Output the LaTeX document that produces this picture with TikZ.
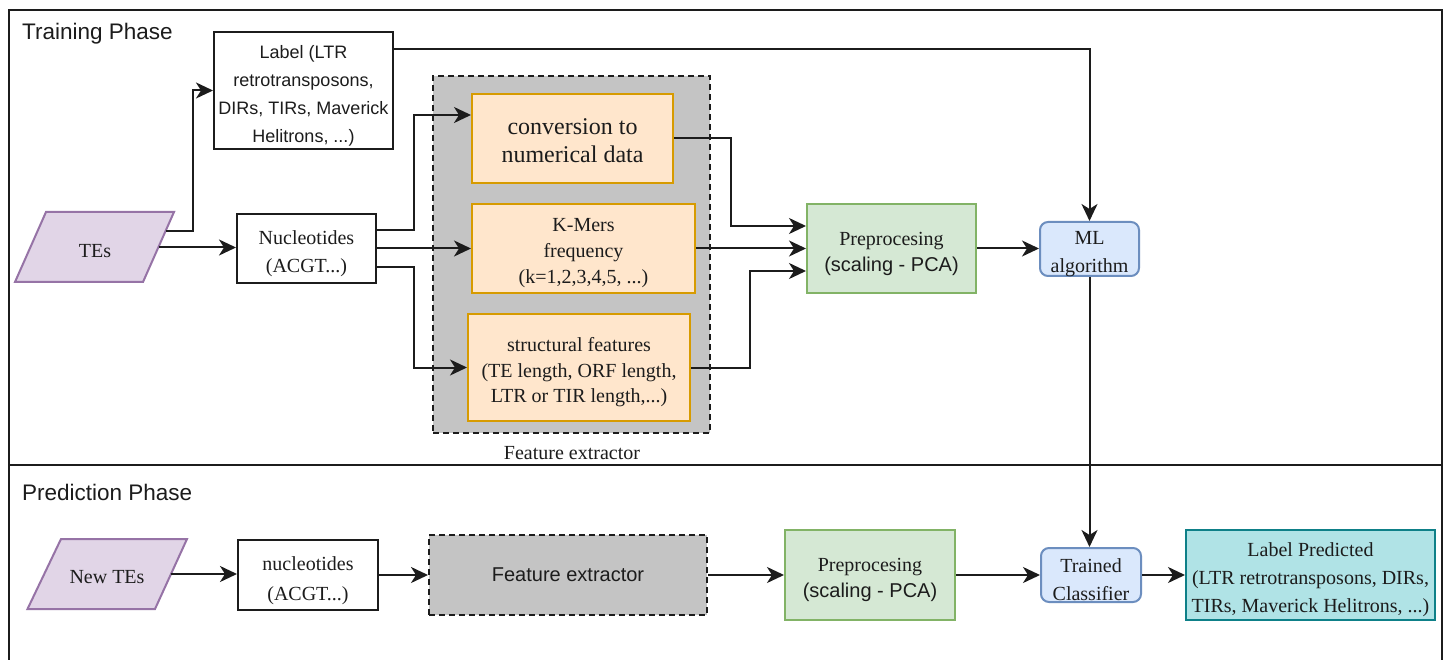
\documentclass[tikz,border=0pt]{standalone}
\usepackage{fontspec}
\setmainfont{Liberation Serif}
\setsansfont{Liberation Sans}
\usetikzlibrary{arrows.meta,calc}
\definecolor{purplefill}{HTML}{E1D5E7}
\definecolor{purpleline}{HTML}{9673A6}
\definecolor{orangefill}{HTML}{FFE6CC}
\definecolor{orangeline}{HTML}{D79B00}
\definecolor{greenfill}{HTML}{D5E8D4}
\definecolor{greenline}{HTML}{82B366}
\definecolor{bluefill}{HTML}{DAE8FC}
\definecolor{blueline}{HTML}{6C8EBF}
\definecolor{tealfill}{HTML}{B0E3E6}
\definecolor{tealline}{HTML}{0E8088}
\definecolor{fegray}{HTML}{C4C4C4}
\definecolor{ink}{HTML}{1C1C1C}
\begin{document}
\begin{tikzpicture}[x=1pt,y=-1pt,
  every node/.style={text=ink},
  serif20/.style={font=\fontsize{20}{27}\selectfont},
  box/.style={draw=ink, line width=2pt, inner sep=0pt, anchor=north west},
  txt/.style={align=center, inner sep=0pt, yshift=-5pt},
  orangebox/.style={box, draw=orangeline, fill=orangefill},
  greenbox/.style={box, draw=greenline, fill=greenfill},
  bluebox/.style={box, draw=blueline, fill=bluefill, rounded corners=8pt},
  tealbox/.style={box, draw=tealline, fill=tealfill},
  graybox/.style={box, fill=fegray, dash pattern=on 6pt off 4pt},
  para/.style={draw=purpleline, fill=purplefill, line width=2pt, line join=miter},
  arr/.style={draw=ink, line width=2pt, -{Stealth[length=17pt,width=16pt,inset=5pt]}},
  phase/.style={font=\sffamily\fontsize{22.5}{26}\selectfont, anchor=west, inner sep=0pt},
  sz/.style 2 args={minimum width=#1pt, minimum height=#2pt}
]
\useasboundingbox (0,0) rectangle (1446,660);
\clip (0,0) rectangle (1446,660);
\fill[white] (0,0) rectangle (1446,660);

% frames
\draw[ink, line width=2.5pt] (9,10) rectangle (1442,465);
\draw[ink, line width=2.5pt] (9,465) -- (9,680);
\draw[ink, line width=2.5pt] (1442,465) -- (1442,680);
\node[phase] (trainlbl) at (22,34) {Training Phase};
\node[phase] (predlbl) at (22,492) {Prediction Phase};

% ---------------- Training phase ----------------
\draw[para] (15,282) -- (143,282) -- (174,212) -- (46,212) -- cycle;
\node[serif20, inner sep=0pt] (tes) at (95,251) {TEs};
\coordinate (tesA) at (165.6,231);
\coordinate (tesB) at (158.5,247.5);

\node[box, sz={179}{117}] (label) at (213,31) {};
\node[txt, font=\sffamily\fontsize{18}{28}\selectfont] (labeltxt) at (label.center)
  {Label (LTR\\retrotransposons,\\DIRs, TIRs, Maverick\\Helitrons, ...)};

\node[box, sz={139}{69}] (nuc) at (236,213) {};
\node[txt, font=\fontsize{20}{28}\selectfont] (nuctxt) at (nuc.center) {Nucleotides\\(ACGT...)};

\node[graybox, sz={277}{357}] (fe) at (432,75) {};
\node[serif20, inner sep=0pt] (fecap) at (572,453) {Feature extractor};

\node[orangebox, sz={201}{89}] (conv) at (471,93) {};
\node[txt, yshift=3pt, font=\fontsize{24}{28}\selectfont] (convtxt) at (conv.center) {conversion to\\numerical data};
\node[orangebox, sz={223}{89}] (kmers) at (471,203) {};
\node[txt, font=\fontsize{20}{26}\selectfont] (kmerstxt) at (kmers.center) {K-Mers\\frequency\\(k=1,2,3,4,5, ...)};
\node[orangebox, sz={222}{107}] (struct) at (467,313) {};
\node[txt, font=\fontsize{20}{25.5}\selectfont] (structtxt) at (struct.center)
  {structural features\\(TE length, ORF length,\\LTR or TIR length,...)};

\node[greenbox, sz={169}{89}] (prep) at (806,203) {};
\node[txt, font=\fontsize{20}{26}\selectfont] (preptxt) at (prep.center)
  {Preprocesing\\{\sffamily (scaling - PCA)}};

\node[bluebox, sz={99}{54}] (ml) at (1039,221) {};
\node[txt, font=\fontsize{20}{28}\selectfont] (mltxt) at (ml.center) {ML\\algorithm};

% ---------------- Prediction phase ----------------
\draw[para] (27.5,609) -- (155,609) -- (187,539) -- (61,539) -- cycle;
\node[serif20, inner sep=0pt] (newtes) at (107,577) {New TEs};
\coordinate (newtesA) at (170.5,574);

\node[box, sz={140}{70}] (nuc2) at (237,539) {};
\node[txt, yshift=-1pt, font=\fontsize{20}{30}\selectfont] (nuc2txt) at (nuc2.center) {nucleotides\\(ACGT...)};
\node[graybox, sz={278}{80}, font=\sffamily\fontsize{20}{24}\selectfont] (fe2) at (428,534) {Feature extractor};
\node[greenbox, sz={170}{90}] (prep2) at (784,529) {};
\node[txt, font=\fontsize{20}{26}\selectfont] (prep2txt) at (prep2.center)
  {Preprocesing\\{\sffamily (scaling - PCA)}};
\node[bluebox, sz={100}{54}] (trained) at (1040,547) {};
\node[txt, font=\fontsize{20}{28}\selectfont] (trainedtxt) at (trained.center) {Trained\\Classifier};
\node[tealbox, sz={249}{90}] (labelp) at (1185,529) {};
\node[txt, font=\fontsize{20}{28}\selectfont] (labelptxt) at (labelp.center)
  {Label Predicted\\(LTR retrotransposons, DIRs,\\TIRs, Maverick Helitrons, ...)};

% connectors training
\draw[arr] (tesA) -- ++(27.4,0) |- (label.west);
\draw[arr] (tesB) -- (tesB -| nuc.west);
\draw[arr] ($(nuc.north east)+(0,17)$) -- ++(37,0) |- ($(conv.north west)+(0,22)$);
\draw[arr] (nuc.east) -- (nuc.east -| kmers.west);
\draw[arr] ($(nuc.south east)+(0,-17)$) -- ++(37,0) |- (struct.west);
\draw[arr] (conv.east) -- ++(57,0) |- ($(prep.north west)+(0,23)$);
\draw[arr] (kmers.east) -- (kmers.east -| prep.west);
\draw[arr] (struct.east) -- ++(59,0) |- ($(prep.south west)+(0,-23)$);
\draw[arr] (prep.east) -- (prep.east -| ml.west);
\draw[arr] ($(label.north east)+(0,18)$) -| (ml.north);
\draw[arr] (ml.south) -- (ml.south |- trained.north);

% connectors prediction
\draw[arr] (newtesA) -- (newtesA -| nuc2.west);
\draw[arr] (nuc2.east) -- (fe2.west);
\draw[arr] (fe2.east) -- (prep2.west);
\draw[arr] (prep2.east) -- (trained.west);
\draw[arr] (trained.east) -- (labelp.west);
\end{tikzpicture}
\end{document}
